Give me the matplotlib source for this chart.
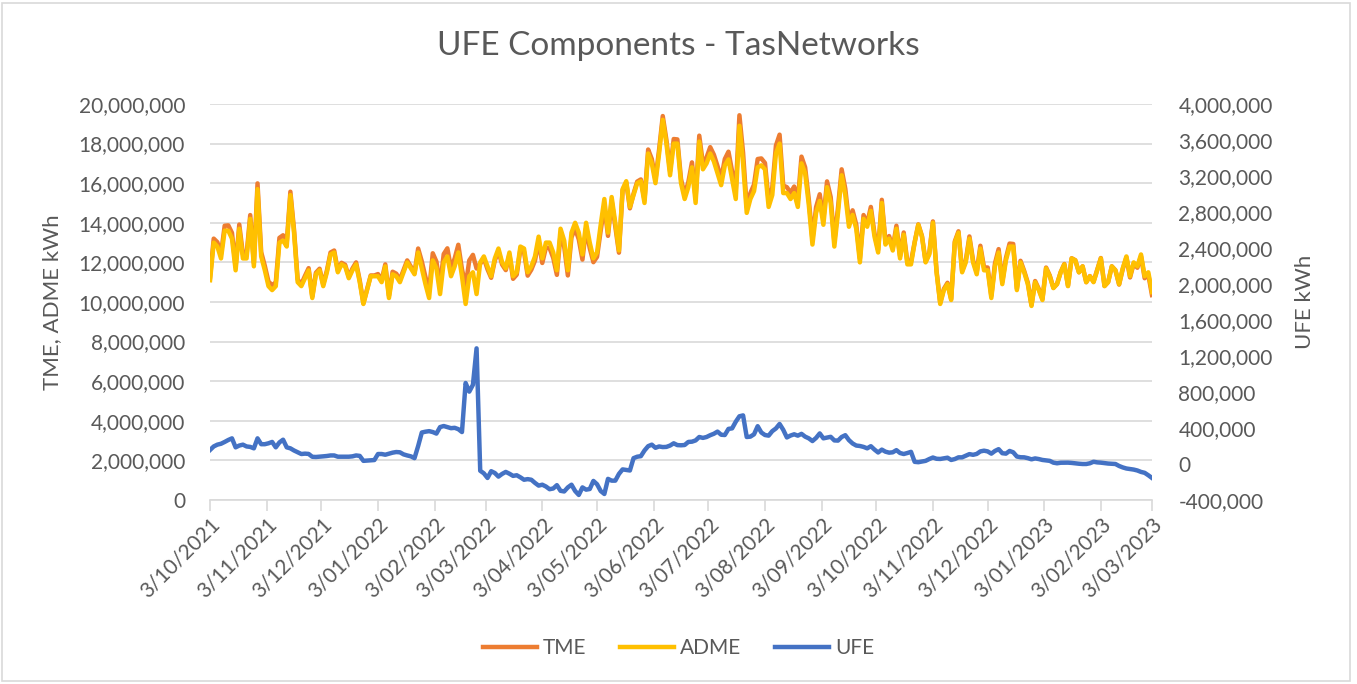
import numpy as np
import pandas as pd
import matplotlib
matplotlib.use("Agg")
import matplotlib.pyplot as plt
import matplotlib.dates as mdates
from matplotlib.ticker import FuncFormatter, MultipleLocator
from matplotlib.patches import Rectangle

plt.rcParams['font.family'] = ['Lato', 'DejaVu Sans']

# one point every 2 days, starting 3/10/2021
start_date = '2021-10-03'

# ADME, million kWh
adme = [
    11.1, 13.0, 12.8, 12.2, 13.6, 13.6, 13.2, 11.6, 13.7, 12.2,
    12.2, 14.2, 11.8, 15.7, 12.3, 11.6, 10.8, 10.6, 10.8, 13.0,
    13.1, 12.8, 15.4, 13.5, 11.0, 10.8, 11.2, 11.6, 10.2, 11.4,
    11.6, 10.8, 11.5, 12.4, 12.5, 11.5, 11.9, 11.8, 11.2, 11.6,
    11.9, 11.0, 9.9, 10.6, 11.3, 11.3, 11.3, 11.0, 11.8, 10.2,
    11.4, 11.3, 11.0, 11.5, 12.0, 11.7, 11.4, 12.5, 11.7, 10.9,
    10.2, 12.1, 11.7, 10.4, 12.0, 12.3, 11.3, 11.8, 12.5, 11.3,
    9.9, 11.3, 11.5, 10.4, 12.0, 12.3, 11.8, 11.3, 12.2, 12.7,
    12.0, 11.7, 12.5, 11.3, 11.5, 12.8, 12.7, 11.5, 11.8, 12.3,
    13.3, 12.2, 13.0, 13.0, 12.5, 11.6, 13.7, 13.1, 11.6, 13.5,
    14.0, 13.5, 12.4, 14.0, 13.0, 12.2, 12.5, 13.9, 15.2, 13.5,
    15.3, 14.0, 12.6, 15.7, 16.1, 14.8, 15.4, 16.0, 16.1, 15.0,
    17.5, 17.0, 16.0, 17.5, 19.2, 18.0, 16.4, 18.0, 18.0, 16.0,
    15.2, 15.8, 16.8, 15.0, 18.1, 16.7, 17.0, 17.5, 17.1, 16.5,
    15.9, 16.9, 17.2, 16.2, 15.2, 18.9, 17.0, 14.5, 15.2, 15.6,
    16.8, 16.9, 16.7, 14.8, 15.4, 17.5, 18.0, 15.5, 15.5, 15.2,
    15.5, 14.8, 17.0, 16.5, 14.9, 12.9, 14.5, 15.1, 13.9, 15.8,
    15.0, 12.8, 14.5, 16.4, 15.4, 13.8, 14.4, 13.7, 12.0, 14.2,
    13.8, 14.6, 13.3, 12.5, 15.0, 12.9, 13.2, 12.6, 13.7, 12.2,
    13.4, 11.9, 11.9, 13.0, 13.9, 13.3, 12.0, 12.4, 14.0, 11.5,
    9.9, 10.6, 10.9, 10.1, 13.0, 13.5, 11.5, 12.0, 13.2, 12.0,
    11.4, 12.7, 11.6, 11.6, 10.2, 11.8, 12.5, 10.9, 12.1, 12.8,
    12.8, 10.6, 12.0, 11.5, 10.9, 9.8, 11.0, 10.6, 10.1, 11.7,
    11.3, 10.7, 10.9, 11.5, 11.9, 10.8, 12.2, 12.1, 11.5, 11.8,
    11.0, 11.3, 11.0, 11.6, 12.2, 10.8, 11.0, 11.8, 11.6, 10.9,
    11.7, 12.3, 11.3, 12.0, 11.8, 12.4, 11.3, 11.5, 10.5,
]

# TME, million kWh
tme = [
    11.26, 13.20, 13.02, 12.43, 13.85, 13.87, 13.49, 11.79, 13.91, 12.42,
    12.40, 14.39, 11.97, 15.99, 12.52, 11.82, 11.03, 10.85, 10.99, 13.24,
    13.37, 12.99, 15.57, 13.65, 11.13, 10.91, 11.32, 11.71, 10.28, 11.48,
    11.68, 10.89, 11.59, 12.50, 12.60, 11.58, 11.98, 11.88, 11.28, 11.69,
    12.00, 11.09, 9.94, 10.64, 11.34, 11.34, 11.41, 11.11, 11.90, 10.32,
    11.53, 11.43, 11.13, 11.61, 12.10, 11.79, 11.47, 12.70, 12.05, 11.26,
    10.57, 12.46, 12.04, 10.81, 12.42, 12.71, 11.70, 12.20, 12.89, 11.66,
    10.80, 12.10, 12.38, 11.69, 11.93, 12.20, 11.65, 11.22, 12.10, 12.56,
    11.89, 11.61, 12.39, 11.17, 11.38, 12.65, 12.53, 11.33, 11.63, 12.09,
    13.06, 11.97, 12.75, 12.72, 12.23, 11.37, 13.40, 12.80, 11.34, 13.27,
    13.70, 13.16, 12.14, 13.72, 12.72, 12.01, 12.28, 13.60, 14.87, 13.34,
    15.12, 13.82, 12.49, 15.64, 16.03, 14.73, 15.47, 16.08, 16.19, 15.15,
    17.70, 17.22, 16.18, 17.70, 19.39, 18.19, 16.61, 18.23, 18.21, 16.21,
    15.41, 16.05, 17.05, 15.26, 18.40, 16.99, 17.30, 17.82, 17.44, 16.86,
    16.23, 17.22, 17.59, 16.60, 15.67, 19.43, 17.54, 14.80, 15.50, 15.93,
    17.22, 17.25, 17.02, 15.12, 15.77, 17.90, 18.45, 15.88, 15.80, 15.52,
    15.83, 15.12, 17.34, 16.80, 15.19, 13.16, 14.79, 15.44, 14.19, 16.09,
    15.30, 13.06, 14.76, 16.70, 15.72, 14.07, 14.63, 13.91, 12.20, 14.39,
    13.97, 14.80, 13.46, 12.63, 15.16, 13.04, 13.33, 12.73, 13.85, 12.32,
    13.51, 12.02, 12.04, 13.02, 13.92, 13.33, 12.04, 12.46, 14.07, 11.56,
    9.96, 10.66, 10.97, 10.15, 13.06, 13.57, 11.57, 12.09, 13.31, 12.10,
    11.51, 12.84, 11.75, 11.74, 10.32, 11.95, 12.67, 11.02, 12.22, 12.95,
    12.93, 10.68, 12.08, 11.57, 10.97, 9.85, 11.06, 10.66, 10.15, 11.74,
    11.34, 10.72, 10.91, 11.51, 11.92, 10.82, 12.21, 12.11, 11.50, 11.80,
    11.00, 11.31, 11.03, 11.62, 12.22, 10.81, 11.01, 11.80, 11.60, 10.88,
    11.66, 12.25, 11.24, 11.94, 11.73, 12.31, 11.20, 11.38, 10.35,
]

# UFE, thousand kWh
ufe = [
    156, 195, 215, 225, 245, 267, 285, 185, 205, 215,
    195, 190, 174, 285, 220, 220, 230, 245, 185, 240,
    270, 185, 174, 150, 130, 111, 115, 112, 80, 78,
    81, 85, 89, 95, 95, 81, 81, 81, 81, 85,
    95, 90, 35, 38, 40, 44, 111, 111, 103, 115,
    126, 133, 130, 107, 95, 85, 65, 200, 350, 359,
    365, 355, 338, 410, 422, 410, 398, 402, 387, 355,
    900, 804, 880, 1285, -75, -104, -155, -80, -100, -140,
    -110, -88, -108, -132, -125, -148, -175, -168, -175, -210,
    -240, -230, -250, -280, -272, -235, -298, -305, -260, -230,
    -300, -344, -260, -285, -278, -188, -225, -300, -333, -165,
    -185, -185, -110, -60, -66, -72, 65, 81, 87, 150,
    198, 215, 180, 195, 188, 190, 205, 230, 210, 208,
    211, 245, 248, 262, 300, 290, 300, 320, 336, 360,
    325, 322, 390, 396, 470, 530, 540, 300, 304, 330,
    420, 350, 322, 315, 365, 395, 445, 380, 295, 316,
    330, 315, 335, 304, 285, 255, 290, 340, 285, 293,
    302, 262, 260, 300, 320, 265, 228, 205, 200, 190,
    174, 198, 160, 128, 160, 137, 126, 130, 154, 122,
    111, 122, 135, 24, 20, 28, 35, 55, 72, 58,
    56, 63, 70, 45, 55, 74, 74, 92, 110, 102,
    112, 140, 148, 140, 115, 145, 165, 120, 115, 145,
    130, 83, 75, 74, 65, 52, 62, 55, 45, 40,
    35, 15, 8, 14, 15, 15, 12, 7, 3, 0,
    0, 8, 25, 18, 15, 10, 5, 2, 0, -22,
    -38, -50, -56, -62, -72, -88, -98, -125, -155,
]

dates = pd.date_range(start_date, periods=len(adme), freq='2D')

grey = '#595959'
fig = plt.figure(figsize=(13.57, 6.84), dpi=100)
ax = fig.add_axes([0.1548, 0.269, 0.6941, 0.579])
ax2 = ax.twinx()

ax.plot(dates, np.array(tme) * 1e6, color='#ED7D31', lw=3.2, label='TME', solid_joinstyle='round')
ax.plot(dates, np.array(adme) * 1e6, color='#FFC000', lw=3.2, label='ADME', solid_joinstyle='round')
ax2.plot(dates, np.array(ufe) * 1e3, color='#4472C4', lw=3.2, label='UFE', solid_joinstyle='round')

ax.set_xlim(pd.Timestamp('2021-10-03'), pd.Timestamp('2023-03-03'))
ax.set_ylim(0, 20e6)
ax2.set_ylim(-400e3, 4e6)
ax.yaxis.set_major_locator(MultipleLocator(2e6))
ax2.yaxis.set_major_locator(MultipleLocator(400e3))
comma = FuncFormatter(lambda v, p: f"{v:,.0f}")
ax.yaxis.set_major_formatter(comma)
ax2.yaxis.set_major_formatter(comma)

ax.xaxis.set_major_locator(mdates.MonthLocator(bymonthday=3))
ax.xaxis.set_major_formatter(FuncFormatter(
    lambda v, p: (lambda d: f"{d.day}/{d.month:02d}/{d.year}")(mdates.num2date(v))))

ax.grid(axis='y', color='#D9D9D9', lw=1.2)
ax.set_axisbelow(True)
for a in (ax, ax2):
    for s in a.spines.values():
        s.set_visible(False)
ax.spines['bottom'].set_visible(True)
ax.spines['bottom'].set_color('#D9D9D9')
ax.spines['bottom'].set_linewidth(1.2)

ax.tick_params(axis='x', length=8, width=1.2, color='#D9D9D9', labelsize=15,
               labelcolor=grey, pad=2)
plt.setp(ax.get_xticklabels(), rotation=45, ha='right', rotation_mode='anchor')
ax.tick_params(axis='y', length=0, labelsize=15, labelcolor=grey, pad=18)
ax2.tick_params(axis='y', length=0, labelsize=15, labelcolor=grey, pad=19)

ax.set_ylabel('TME, ADME kWh', fontsize=16, color=grey, labelpad=12)
ax2.set_ylabel('UFE kWh', fontsize=16, color=grey, labelpad=16)
fig.suptitle('UFE Components - TasNetworks', fontsize=24, color=grey, y=0.955)

h1, l1 = ax.get_legend_handles_labels()
h2, l2 = ax2.get_legend_handles_labels()
fig.legend(h1 + h2, l1 + l2, loc='center', bbox_to_anchor=(0.5, 0.052), ncol=3,
           frameon=False, fontsize=15, labelcolor=grey, handlelength=2.6,
           columnspacing=1.6, handletextpad=0.3)

fig.patches.append(Rectangle((0.0015, 0.004), 0.9935, 0.992, transform=fig.transFigure,
                             fill=False, edgecolor='#D9D9D9', lw=1.2))

fig.savefig('out.png', dpi=100)
